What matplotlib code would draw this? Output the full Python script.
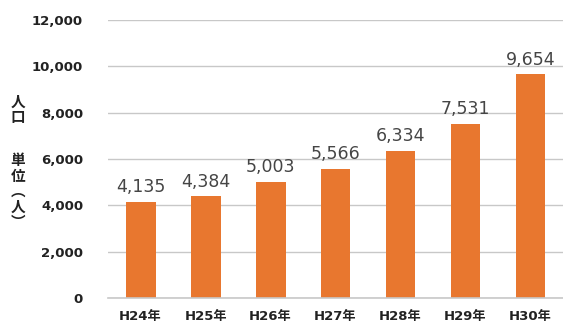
import matplotlib.pyplot as plt
import numpy as np

# population by fiscal year (Heisei)
years = ['H24年', 'H25年', 'H26年', 'H27年', 'H28年', 'H29年', 'H30年']
population = [4135, 4384, 5003, 5566, 6334, 7531, 9654]
yticks = [0, 2000, 4000, 6000, 8000, 10000, 12000]
ylabel_top = ['人', '口']
ylabel_bottom = ['単', '位', '︵', '人', '︶']

plt.rcParams['font.family'] = ['Noto Sans CJK JP', 'DejaVu Sans']

fig = plt.figure(figsize=(5.63, 3.28), dpi=100)
ax = fig.add_axes([0.192, 0.0915, 0.808, 0.8475])

x = np.arange(len(years))
ax.bar(x, population, width=0.46, color='#E8772F', zorder=2)

for xi, v in zip(x, population):
    ax.text(xi, v + 250, f'{v:,}', ha='center', va='bottom',
            fontsize=12.5, color='#454545', family='DejaVu Sans')

ax.set_xlim(-0.5, len(years) - 0.5)
ax.set_ylim(0, 12000)
ax.set_yticks(yticks)
ax.set_yticklabels([f'{t:,}' for t in yticks], fontsize=9.5,
                   fontweight='bold', family='DejaVu Sans', color='#222222')
ax.set_xticks(x)
ax.set_xticklabels(years, fontsize=9.5, fontweight='bold', color='#222222',
                   family=['DejaVu Sans', 'Noto Sans CJK JP'])
ax.tick_params(length=0)
ax.tick_params(axis='y', pad=18)
ax.tick_params(axis='x', pad=9)

ax.grid(axis='y', color='#c8c8c8', linewidth=1, zorder=0)
ax.axhline(0, color='#c8c8c8', linewidth=1.2, zorder=3, clip_on=False)
for s in ax.spines.values():
    s.set_visible(False)

# vertical axis title, one character per line
for i, ch in enumerate(ylabel_top):
    fig.text(0.032, 1 - (102 + 15 * i) / 328, ch, ha='center', va='center',
             fontsize=10.5, fontweight='bold', color='#222222')
for i, ch in enumerate(ylabel_bottom):
    fig.text(0.032, 1 - (160 + 15.5 * i) / 328, ch, ha='center', va='center',
             fontsize=10.5, fontweight='bold', color='#222222')

fig.savefig('out.png', dpi=100)
